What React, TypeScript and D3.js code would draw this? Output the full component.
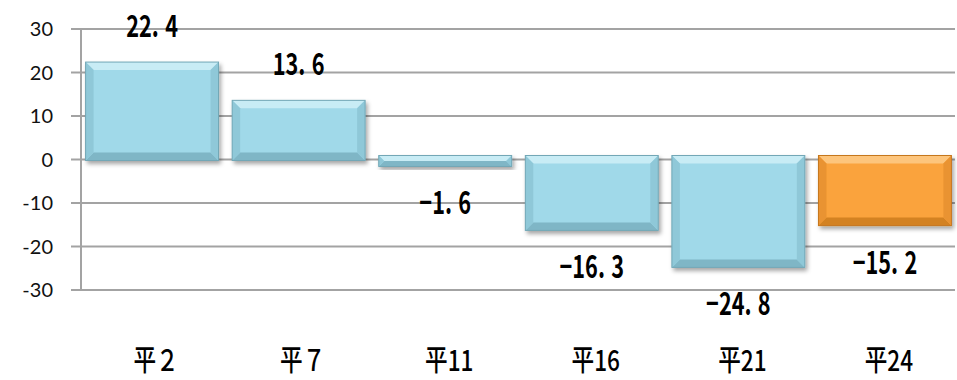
import { useEffect, useRef } from "react";
import * as d3 from "d3";

const categories = ["平２", "平７", "平11", "平16", "平21", "平24"];
const values = [22.4, 13.6, -1.6, -16.3, -24.8, -15.2];
const highlight = [false, false, false, false, false, true];
const yTicks = [-30, -20, -10, 0, 10, 20, 30];

const palettes = {
  blue: { base: "#a0d9e9", light: "#c8ecf5", dark: "#7fb6c6", side: "#8fc8d8", line: "#73a7b6" },
  orange: { base: "#faa33c", light: "#fdc57c", dark: "#d38223", side: "#e99331", line: "#c5771f" },
};

export default function App() {
  const ref = useRef<SVGSVGElement>(null);

  useEffect(() => {
    const svg = d3.select(ref.current);
    svg.selectAll("*").remove();

    const x = d3.scaleBand().domain(categories).range([79, 958]).paddingInner(0.093).paddingOuter(0.045);
    const y = d3.scaleLinear().domain([-30, 30]).range([290, 29]);

    const defs = svg.append("defs");
    defs.append("filter")
      .attr("id", "shadow")
      .attr("x", "-10%").attr("y", "-10%").attr("width", "130%").attr("height", "140%")
      .append("feDropShadow")
      .attr("dx", 2).attr("dy", 3).attr("stdDeviation", 2)
      .attr("flood-color", "#000").attr("flood-opacity", 0.35);

    // gridlines
    svg.append("g")
      .selectAll("line")
      .data(yTicks)
      .join("line")
      .attr("x1", 71)
      .attr("x2", 955)
      .attr("y1", d => y(d))
      .attr("y2", d => y(d))
      .attr("stroke", "#a3a3a3")
      .attr("stroke-width", 2);

    svg.append("line")
      .attr("x1", 81).attr("x2", 81)
      .attr("y1", y(30)).attr("y2", y(-30))
      .attr("stroke", "#a3a3a3").attr("stroke-width", 2);

    svg.append("g")
      .attr("font-family", "Lato, 'Open Sans', sans-serif")
      .attr("font-size", 20)
      .attr("text-anchor", "end")
      .selectAll("text")
      .data(yTicks)
      .join("text")
      .attr("x", 53)
      .attr("y", d => y(d))
      .attr("dy", "0.36em")
      .attr("fill", "#111")
      .text(d => d);

    // bars with a bevel look
    const bars = svg.append("g")
      .selectAll("g")
      .data(values)
      .join("g")
      .attr("filter", "url(#shadow)");

    bars.each(function (v, i) {
      const g = d3.select(this);
      const p = highlight[i] ? palettes.orange : palettes.blue;
      const x0 = x(categories[i])!;
      const w = x.bandwidth();
      const top = v >= 0 ? y(v) : y(0) - 4;
      const bottom = v >= 0 ? y(0) + 1 : y(v);
      const h = bottom - top;
      const b = Math.min(8, h / 2);
      const x1 = x0 + w;

      g.append("rect").attr("x", x0).attr("y", top).attr("width", w).attr("height", h).attr("fill", p.base);
      const poly = (pts: [number, number][], fill: string) =>
        g.append("polygon").attr("points", pts.map(q => q.join(",")).join(" ")).attr("fill", fill);
      poly([[x0, top], [x1, top], [x1 - b, top + b], [x0 + b, top + b]], p.light);
      poly([[x0, bottom], [x1, bottom], [x1 - b, bottom - b], [x0 + b, bottom - b]], p.dark);
      poly([[x0, top], [x0 + b, top + b], [x0 + b, bottom - b], [x0, bottom]], p.side);
      poly([[x1, top], [x1 - b, top + b], [x1 - b, bottom - b], [x1, bottom]], p.side);
      g.append("rect").attr("x", x0).attr("y", top).attr("width", w).attr("height", h)
        .attr("fill", "none").attr("stroke", p.line).attr("stroke-width", 1);
    });

    // value labels (wide gap after the decimal point, like the original font)
    const labels = svg.append("g")
      .attr("font-family", "'Noto Sans CJK JP', sans-serif")
      .attr("font-size", 31)
      .attr("font-weight", 700)
      .attr("text-anchor", "middle")
      .selectAll("text")
      .data(values)
      .join("text")
      .attr("transform", (d, i) =>
        `translate(${x(categories[i])! + x.bandwidth() / 2},${y(d) + (d >= 0 ? -39 : 34)}) scale(0.7,1)`)
      .attr("dominant-baseline", "central")
      .attr("fill", "#000");
    labels.append("tspan").text(d => {
      const s = Math.abs(d).toFixed(1).split(".")[0];
      return (d < 0 ? "−" : "") + s + ".";
    });
    labels.append("tspan").attr("dx", 9).text(d => Math.abs(d).toFixed(1).split(".")[1]);

    // category labels
    svg.append("g")
      .attr("font-family", "'Noto Sans CJK JP', sans-serif")
      .attr("font-size", 29)
      .attr("font-weight", 500)
      .attr("text-anchor", "middle")
      .selectAll("text")
      .data(categories)
      .join("text")
      .attr("transform", d => `translate(${x(d)! + x.bandwidth() / 2 + 4},371) scale(0.78,1)`)
      .attr("fill", "#000")
      .text(d => d);
  }, []);

  return (
    <svg
      ref={ref}
      width={957}
      height={380}
      style={{ position: "absolute", left: 0, top: 0, background: "#fff" }}
    />
  );
}
